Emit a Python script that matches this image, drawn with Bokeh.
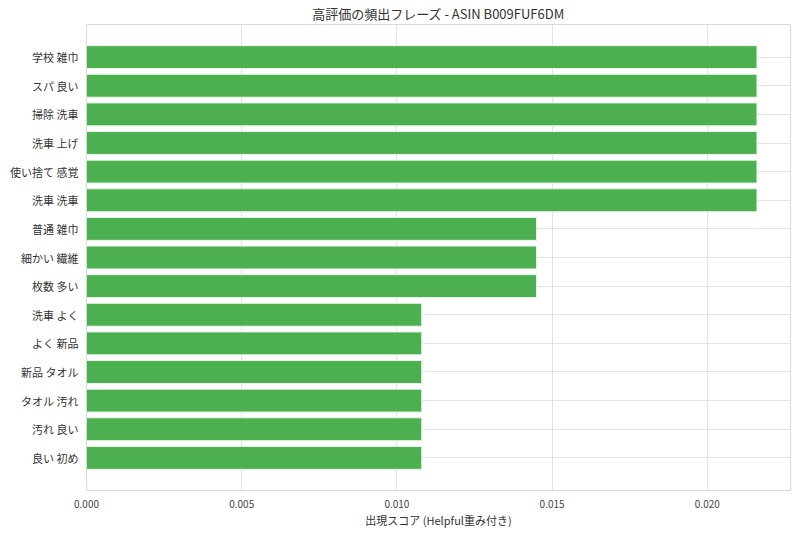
from bokeh.plotting import figure
from bokeh.models import FactorRange, FixedTicker
from bokeh.embed import file_html
from bokeh.resources import INLINE

phrases = ["学校 雑巾", "スパ 良い", "掃除 洗車", "洗車 上げ", "使い捨て 感覚", "洗車 洗車",
           "普通 雑巾", "細かい 繊維", "枚数 多い", "洗車 よく", "よく 新品", "新品 タオル",
           "タオル 汚れ", "汚れ 良い", "良い 初め"]
scores = [0.0216, 0.0216, 0.0216, 0.0216, 0.0216, 0.0216,
          0.0145, 0.0145, 0.0145, 0.0108, 0.0108, 0.0108,
          0.0108, 0.0108, 0.0108]
x_ticks = [0.0, 0.005, 0.010, 0.015, 0.020]
tick_labels = {0.0: "0.000", 0.005: "0.005", 0.010: "0.010", 0.015: "0.015", 0.020: "0.020"}

FONT = "Noto Sans CJK JP"

yr = FactorRange(factors=list(reversed(phrases)), range_padding=0.0853, range_padding_units="percent")
p = figure(frame_width=704, frame_height=466, y_range=yr, x_range=(0, max(scores) * 1.05),
           output_backend="svg", toolbar_location=None,
           title="高評価の頻出フレーズ - ASIN B009FUF6DM",
           min_border_left=78, min_border_right=2, min_border_top=17, min_border_bottom=34,
           margin=(0, 0, 0, 7))

p.hbar(y=phrases, right=scores, left=0, height=0.8, fill_color="#4CAF50",
       line_color="#e8f5e9", line_width=1)

p.title.align = "center"
p.title.text_font = FONT
p.title.text_font_size = "13px"
p.title.text_font_style = "normal"
p.title.text_color = "#333333"
p.title.standoff = 3

p.xaxis.ticker = FixedTicker(ticks=x_ticks)
p.xaxis.major_label_overrides = tick_labels
p.xaxis.axis_label = "出現スコア (Helpful重み付き)"
for ax in (p.xaxis, p.yaxis):
    ax.axis_line_color = None
    ax.major_tick_line_color = None
    ax.minor_tick_line_color = None
    ax.major_tick_out = 0
    ax.major_tick_in = 0
    ax.minor_tick_out = 0
    ax.minor_tick_in = 0
    ax.major_label_text_font = FONT
    ax.axis_label_text_font = FONT
p.xaxis.major_label_text_font_size = "10px"
p.xaxis.major_label_text_color = "#444444"
p.xaxis.major_label_standoff = 9
p.xaxis.axis_label_text_font_size = "11px"
p.xaxis.axis_label_text_font_style = "normal"
p.xaxis.axis_label_text_color = "#333333"
p.xaxis.axis_label_standoff = 1
p.yaxis.major_label_text_font_size = "11px"
p.yaxis.major_label_text_color = "#333333"
p.yaxis.major_label_standoff = 8

p.xgrid.grid_line_color = "#e3e3e3"
p.ygrid.grid_line_color = "#e3e3e3"
p.outline_line_color = "#d9d9d9"
p.outline_line_width = 1
p.background_fill_color = "white"
p.border_fill_color = "white"

open("out.html", "w").write(file_html(p, INLINE))
